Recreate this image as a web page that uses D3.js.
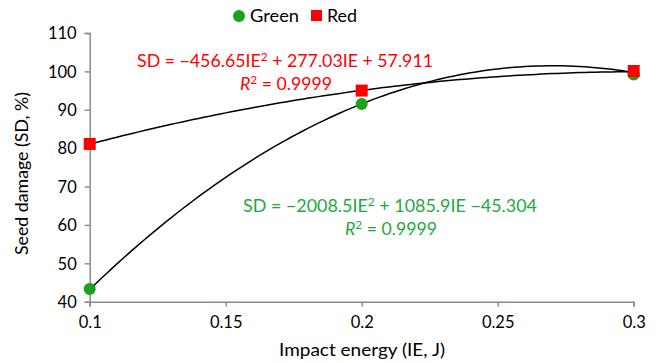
<!DOCTYPE html>
<html><head><meta charset="utf-8">
<script src="https://cdn.jsdelivr.net/npm/d3@7"></script>
<style>
body{margin:0;background:#fff;}
text{font-family:Lato,"Open Sans",sans-serif;}
</style></head>
<body><svg id="c" width="657" height="363"></svg>
<script>
const energy = [0.1, 0.2, 0.3];
const greenValues = [43.3, 91.5, 99.2];
const redValues = [81.1, 95.0, 100.1];
const greenCoef = [-2008.5, 1085.9, -45.304];
const redCoef = [-456.65, 277.03, 57.911];
const xTicks = [0.1, 0.15, 0.2, 0.25, 0.3];
const yTicks = [40, 50, 60, 70, 80, 90, 100, 110];

const svg = d3.select("#c");
const x = d3.scaleLinear().domain([0.1, 0.3]).range([89.7, 633.7]);
const y = d3.scaleLinear().domain([40, 110]).range([301.7, 33]);
const axisColor = "#8c8c8c";

// axes
const gx = svg.append("g").attr("transform", `translate(0,${y(40)})`)
  .call(d3.axisBottom(x).tickValues(xTicks).tickSize(5).tickPadding(6).tickFormat(d => String(d)));
const gy = svg.append("g").attr("transform", `translate(${x(0.1)},0)`)
  .call(d3.axisLeft(y).tickValues(yTicks).tickSize(5).tickPadding(8));
[gx, gy].forEach(g => {
  g.select(".domain").attr("stroke", axisColor).attr("stroke-width", 1.5);
  g.selectAll(".tick line").attr("stroke", axisColor).attr("stroke-width", 1.5);
  g.selectAll(".tick text").attr("fill", "#000").style("font-size", "16.5px").style("font-family", "Lato, sans-serif");
});
gx.selectAll(".tick text").attr("dy", "0.9em");
gy.selectAll(".tick text").attr("dy", "0.35em");

// trend lines
const samples = d3.range(0, 101).map(i => 0.1 + i * 0.002);
const poly = c => xv => c[0] * xv * xv + c[1] * xv + c[2];
const line = d3.line().x(d => x(d[0])).y(d => y(d[1]));
[greenCoef, redCoef].forEach(c => {
  const f = poly(c);
  svg.append("path").datum(samples.map(s => [s, f(s)]))
    .attr("d", line).attr("fill", "none").attr("stroke", "#000").attr("stroke-width", 1.5);
});

// markers
svg.append("g").selectAll("circle").data(energy).join("circle")
  .attr("cx", d => x(d)).attr("cy", (d, i) => y(greenValues[i])).attr("r", 6).attr("fill", "#1aa31a");
svg.append("g").selectAll("rect").data(energy).join("rect")
  .attr("x", d => x(d) - 6).attr("y", (d, i) => y(redValues[i]) - 6)
  .attr("width", 12).attr("height", 12).attr("fill", "#ff0000");

// legend
svg.append("circle").attr("cx", 239).attr("cy", 16).attr("r", 6).attr("fill", "#1aa31a");
svg.append("text").attr("x", 250).attr("y", 22).style("font-size", "17px").attr("textLength", 49).attr("lengthAdjust", "spacingAndGlyphs").text("Green");
svg.append("rect").attr("x", 311).attr("y", 10).attr("width", 11).attr("height", 11).attr("fill", "#ff0000");
svg.append("text").attr("x", 327).attr("y", 22).style("font-size", "17px").attr("textLength", 30).attr("lengthAdjust", "spacingAndGlyphs").text("Red");

// equations
function eq(xp, yp, color, parts, len) {
  const t = svg.append("text").attr("x", xp).attr("y", yp).attr("fill", color).style("font-size", "16.5px");
  parts.forEach(p => {
    const ts = t.append("tspan").text(p.t);
    if (p.sup) ts.attr("dy", -6).style("font-size", "11px");
    if (p.down) ts.attr("dy", 6);
    if (p.it) ts.style("font-style", "italic");
  });
  if (len) t.attr("textLength", len).attr("lengthAdjust", "spacingAndGlyphs");
}
eq(137, 67, "#ff0000", [{t:"SD = \u2212456.65IE"},{t:"2",sup:true},{t:" + 277.03IE + 57.911",down:true}], 296);
eq(240, 90, "#ff0000", [{t:"R",it:true},{t:"2",sup:true},{t:" = 0.9999",down:true}], 92);
eq(243, 212, "#1fa83f", [{t:"SD = \u22122008.5IE"},{t:"2",sup:true},{t:" + 1085.9IE \u221245.304",down:true}], 294);
eq(345, 235, "#1fa83f", [{t:"R",it:true},{t:"2",sup:true},{t:" = 0.9999",down:true}], 92);

// axis titles
svg.append("text").attr("x", 279).attr("y", 356).style("font-size", "17.5px")
  .attr("textLength", 166).attr("lengthAdjust", "spacingAndGlyphs").text("Impact energy (IE, J)");
svg.append("text").attr("transform", "translate(28,255) rotate(-90)").style("font-size", "17.5px")
  .attr("textLength", 163).attr("lengthAdjust", "spacingAndGlyphs").text("Seed damage (SD, %)");
</script></body></html>
